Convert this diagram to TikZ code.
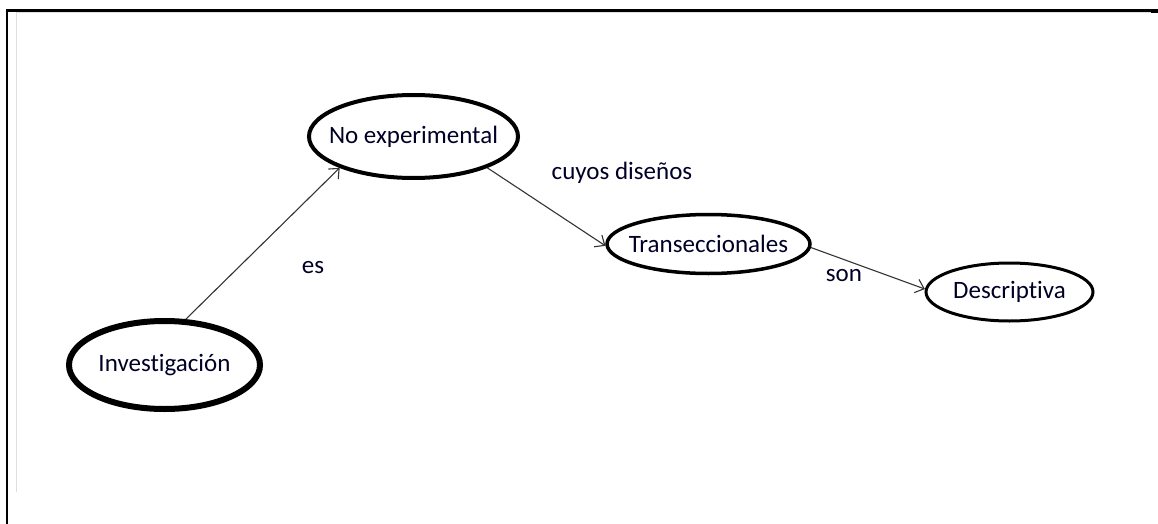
\documentclass[tikz,border=0pt]{standalone}
\usepackage{fontspec}
\setmainfont{Carlito}[Ligatures={CommonOff,RareOff,ContextualOff}]
\usetikzlibrary{shapes.geometric,arrows.meta}
\newcommand{\conceptword}[1]{\makebox[0pt]{#1}}
\begin{document}
\begin{tikzpicture}[x=1pt,y=-1pt,
  concept/.style={ellipse,draw=black,fill=white,inner sep=0pt,
    font=\fontsize{25}{28}\selectfont,text=black!85!blue},
  link/.style={draw=black!80,line width=1.1pt,
    -{Straight Barb[length=8pt,width=14pt,line width=1.1pt]}},
  linklabel/.style={inner sep=0pt,font=\fontsize{25}{28}\selectfont,text=black!85!blue},
  frameline/.style={line width=2.2pt,black},
  shadowline/.style={line width=1.5pt,black!13}]
  \useasboundingbox (0,0) rectangle (1158,524);
  % page frame
  \draw[shadowline] (16.7,12.5) -- (16.7,492);
  \draw[shadowline] (16.7,12.7) -- (1151,12.7);
  \draw[frameline] (6,10.6) -- (1158,10.6);
  \draw[frameline] (7,10) -- (7,524);
  \fill[black] (1151,9.5) rectangle (1158,13);
  % concepts
  \node[concept,line width=6pt,minimum width=191pt,minimum height=88pt] (inv) at (164.5,365) {\conceptword{Investigación}};
  \node[concept,line width=4pt,minimum width=209pt,minimum height=83pt] (noexp) at (413.5,136.5) {\conceptword{No experimental}};
  \node[concept,line width=3.5pt,minimum width=203pt,minimum height=59pt] (trans) at (708.5,244) {\conceptword{Transeccionales}};
  \node[concept,line width=3pt,minimum width=167pt,minimum height=58pt] (desc) at (1009.5,292) {\conceptword{Descriptiva}};
  % links
  \draw[link] (inv.65) -- (noexp.203.6);
  \draw[link] (noexp.337) -- (trans.181);
  \draw[link] (trans.358.3) -- (desc.178.7);
  % link words
  \node[linklabel] (les) at (313,268) {es};
  \node[linklabel] (lcuyos) at (622,173) {cuyos diseños};
  \node[linklabel] (lson) at (844,276) {son};
\end{tikzpicture}
\end{document}
